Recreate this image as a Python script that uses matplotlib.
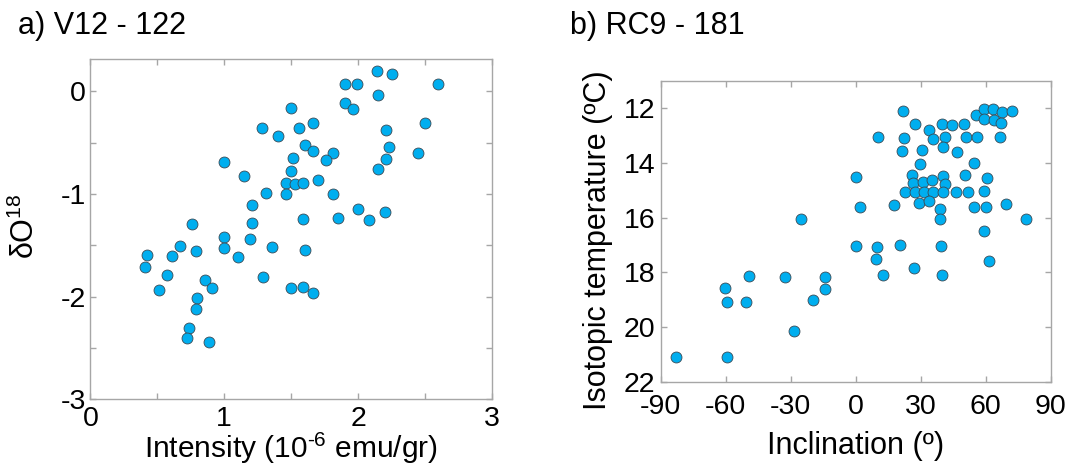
import matplotlib
matplotlib.use("Agg")
import matplotlib.pyplot as plt
from matplotlib.ticker import MultipleLocator

plt.rcParams["font.family"] = ["Liberation Sans", "DejaVu Sans"]
plt.rcParams["mathtext.fontset"] = "custom"
plt.rcParams["mathtext.rm"] = "Liberation Sans"
plt.rcParams["mathtext.it"] = "Liberation Sans"
plt.rcParams["axes.unicode_minus"] = False

# ── Panel a: V12-122, intensity vs dO18 ──────────────────────────────────────
intensity = [2.14, 2.25, 1.90, 1.99, 2.60, 2.15, 1.90, 1.96, 1.50, 1.66,
             2.50, 1.28, 1.56, 2.21, 1.40, 1.60, 2.23, 1.66, 1.81, 2.45,
             1.51, 2.21, 1.00, 1.76, 1.50, 2.15, 1.15, 1.70, 1.46, 1.53,
             1.59, 1.31, 1.46, 1.81, 1.21, 2.00, 2.08, 2.20, 1.59, 1.85,
             0.76, 1.21, 1.00, 1.19, 0.67, 1.36, 1.00, 0.79, 1.60, 0.42,
             0.61, 1.10, 0.41, 0.57, 0.86, 1.29, 0.51, 0.91, 1.50, 1.59,
             1.66, 0.80, 0.79, 0.74, 0.72, 0.89]
d18o = [0.20, 0.17, 0.07, 0.07, 0.07, -0.04, -0.12, -0.17, -0.16, -0.31,
        -0.31, -0.36, -0.36, -0.38, -0.44, -0.52, -0.54, -0.58, -0.60, -0.60,
        -0.65, -0.66, -0.69, -0.67, -0.78, -0.76, -0.83, -0.86, -0.89, -0.90,
        -0.89, -0.99, -1.00, -1.00, -1.11, -1.15, -1.25, -1.18, -1.24, -1.23,
        -1.29, -1.28, -1.42, -1.44, -1.51, -1.52, -1.53, -1.56, -1.55, -1.59,
        -1.60, -1.61, -1.71, -1.79, -1.84, -1.81, -1.93, -1.92, -1.92, -1.91,
        -1.96, -2.01, -2.12, -2.30, -2.40, -2.44]

# ── Panel b: RC9-181, inclination vs isotopic temperature ────────────────────
inclination = [-83.1, -59.5, -28.6, -60.2, -59.4, -50.8, -49.2, -32.6, -19.5, -14.3,
               -14.3, -25.1, 0.3, 1.8, 0.2, 10.2, 9.7, 9.5, 12.8, 17.8,
               20.3, 21.8, 22.2, 21.2, 22.9, 27.4, 27.1, 25.8, 26.6, 27.4,
               29.1, 29.7, 30.8, 31.2, 31.7, 33.7, 35.5, 35.2, 35.8, 34.0,
               39.7, 44.5, 41.1, 40.5, 46.8, 40.3, 41.1, 40.2, 38.9, 38.9,
               39.5, 40.0, 46.5, 50.2, 50.8, 50.6, 51.8, 54.5, 54.5, 55.4,
               55.8, 59.4, 59.2, 63.2, 63.7, 67.5, 67.2, 72.0, 66.8, 60.5,
               59.4, 60.3, 59.4, 61.4, 69.5, 78.6]
temperature = [21.09, 21.09, 20.15, 18.59, 19.09, 19.09, 18.15, 18.17, 19.00, 18.16,
               18.61, 16.07, 14.52, 15.60, 17.05, 13.04, 17.06, 17.51, 18.10, 15.55,
               17.02, 12.12, 13.10, 13.57, 15.07, 12.57, 17.84, 14.44, 14.74, 15.07,
               15.48, 14.04, 13.52, 14.70, 15.07, 12.79, 13.12, 14.62, 15.07, 15.41,
               12.57, 12.62, 13.04, 13.41, 13.59, 14.48, 14.77, 15.07, 15.68, 16.07,
               17.04, 18.10, 15.07, 12.60, 13.06, 14.46, 15.05, 13.99, 15.61, 12.24,
               13.07, 12.04, 12.41, 12.02, 12.43, 12.13, 12.54, 12.10, 13.05, 14.54,
               15.04, 15.63, 16.50, 17.60, 15.52, 16.05]

DOT = "#00aeef"
EDGE = "#3a4a55"
SPINE = "#a6a6a6"
TICK_FS = 20.5
LABEL_FS = 22

fig = plt.figure(figsize=(10.74, 4.65), dpi=100)
ax1 = fig.add_axes([0.0841, 0.1409, 0.3740, 0.7316])
ax2 = fig.add_axes([0.6152, 0.1791, 0.3631, 0.6474])


def style(ax, xpad, ypad):
    for s in ax.spines.values():
        s.set_color(SPINE)
        s.set_linewidth(1.0)
    ax.tick_params(which="both", direction="in", top=True, right=True,
                   length=4, width=1.0, color=SPINE, labelsize=TICK_FS)
    ax.tick_params(axis="x", pad=xpad)
    ax.tick_params(axis="y", pad=ypad)


ax1.scatter(intensity, d18o, s=62, color=DOT, edgecolors=EDGE,
            linewidths=0.6, zorder=3)
ax1.set_xlim(0, 3)
ax1.set_ylim(-3, 0.31)
ax1.xaxis.set_major_locator(MultipleLocator(1))
ax1.xaxis.set_minor_locator(MultipleLocator(0.5))
ax1.yaxis.set_major_locator(MultipleLocator(1))
ax1.yaxis.set_minor_locator(MultipleLocator(0.5))
style(ax1, 5, 3)
ax1.set_xlabel(r"Intensity (10$^{\text{-6}}$ emu/gr)", fontsize=21.5, labelpad=-1)
ax1.set_ylabel(r"δO$^{\mathregular{18}}$", fontsize=LABEL_FS)
ax1.yaxis.set_label_coords(-0.123, 0.51)

ax2.scatter(inclination, temperature, s=62, color=DOT, edgecolors=EDGE,
            linewidths=0.6, zorder=3)
ax2.set_xlim(-90, 90)
ax2.set_ylim(22, 11)
ax2.xaxis.set_major_locator(MultipleLocator(30))
ax2.yaxis.set_major_locator(MultipleLocator(2))
style(ax2, 9, 4)
ax2.set_xlabel("Inclination (º)", fontsize=LABEL_FS, labelpad=8)
ax2.set_ylabel("Isotopic temperature (ºC)", fontsize=LABEL_FS)
ax2.yaxis.set_label_coords(-0.122, 0.47)

fig.text(0.017, 0.945, "a) V12 - 122", fontsize=22, ha="left", va="center")
fig.text(0.531, 0.945, "b) RC9 - 181", fontsize=22, ha="left", va="center")

fig.savefig("out.png", dpi=100)
